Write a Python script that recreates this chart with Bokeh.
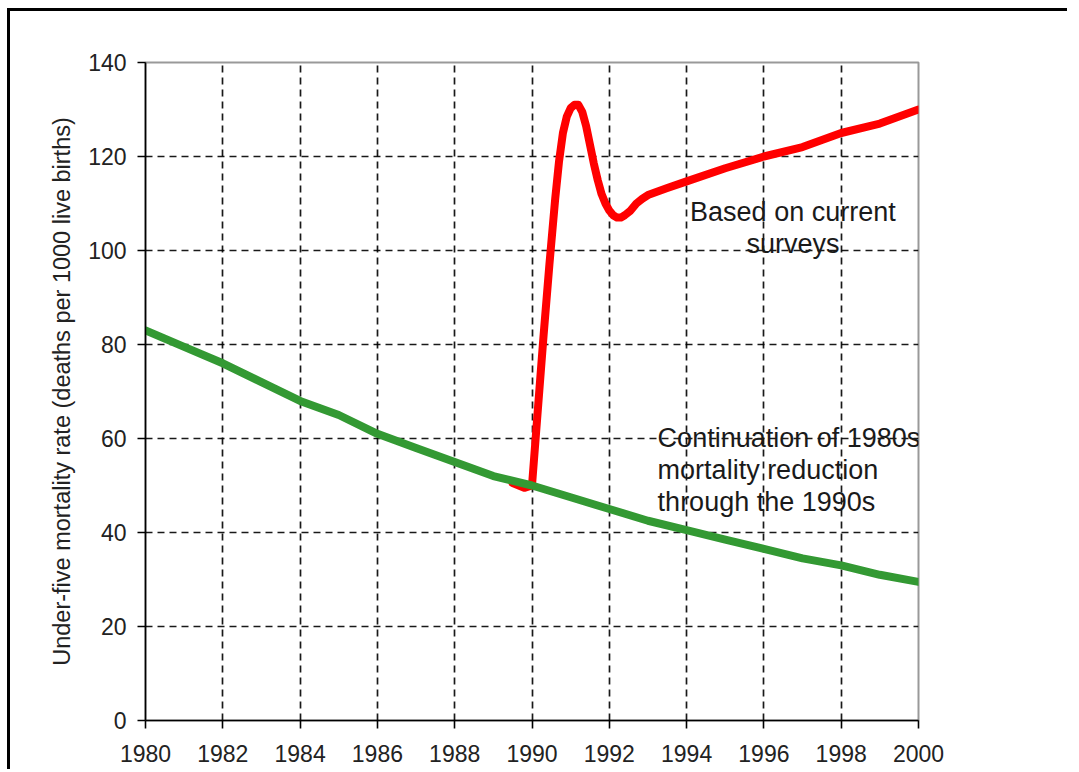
from bokeh.plotting import figure
from bokeh.models import FixedTicker, Range1d
from bokeh.core.properties import value
from bokeh.embed import file_html
from bokeh.resources import INLINE

# ---- data ----
green_years = [1980, 1981, 1982, 1983, 1984, 1985, 1986, 1987, 1988, 1989, 1990,
               1991, 1992, 1993, 1994, 1995, 1996, 1997, 1998, 1999, 2000]
green_rate = [83, 79.5, 76, 72, 68, 65, 61, 58, 55, 52, 50,
              47.5, 45, 42.5, 40.5, 38.5, 36.5, 34.5, 33, 31, 29.5]

red_years = [1989.5, 1989.8, 1990.0, 1990.15, 1990.3, 1990.45, 1990.6, 1990.7, 1990.8,
             1990.9, 1991.0, 1991.1, 1991.2, 1991.3, 1991.4, 1991.5, 1991.6, 1991.7,
             1991.8, 1991.9, 1992.0, 1992.1, 1992.2, 1992.3, 1992.4, 1992.55, 1992.7,
             1992.85, 1993.0, 1993.5, 1994, 1995, 1996, 1997, 1998, 1999, 2000]
red_rate = [50.5, 49.5, 50, 66, 82, 97, 111, 119, 125,
            128.5, 130.3, 131, 131, 129.5, 126.5, 122.5, 118.5, 115,
            112, 110, 108.5, 107.5, 107, 107, 107.5, 108.5, 110,
            111, 111.8, 113.3, 114.7, 117.5, 120, 122, 125, 127, 130]

x_ticks = [1980, 1982, 1984, 1986, 1988, 1990, 1992, 1994, 1996, 1998, 2000]
y_ticks = [0, 20, 40, 60, 80, 100, 120, 140]

surveys_lines = ["Based on current", "surveys"]
cont_lines = ["Continuation of 1980s", "mortality reduction", "through the 1990s"]
y_title = "Under-five mortality rate (deaths per 1000 live births)"

FONT = "Liberation Sans"

p = figure(width=1060, height=761, output_backend="svg", toolbar_location=None,
           x_range=Range1d(1980, 2000), y_range=Range1d(0, 140),
           min_border_left=135, min_border_right=152, min_border_top=51,
           min_border_bottom=52)
p.styles = {"border-top": "3px solid black", "border-left": "3px solid black",
            "margin-left": "7px", "margin-top": "8px"}

p.background_fill_color = "white"
p.border_fill_color = "white"
p.outline_line_color = "#999999"
p.outline_line_width = 2

# grids
p.xgrid.ticker = FixedTicker(ticks=x_ticks[1:-1])
p.ygrid.ticker = FixedTicker(ticks=y_ticks[1:-1])
for g in (p.xgrid, p.ygrid):
    g.grid_line_color = "black"
    g.grid_line_width = 1.7
    g.grid_line_dash = "7 5"
    g.grid_line_alpha = 0.9

# axes
p.xaxis.ticker = FixedTicker(ticks=x_ticks)
p.yaxis.ticker = FixedTicker(ticks=y_ticks)
for ax in (p.xaxis, p.yaxis):
    ax.axis_line_color = "black"
    ax.axis_line_width = 1.6
    ax.major_tick_line_color = "black"
    ax.major_tick_line_width = 1.6
    ax.major_tick_out = 8
    ax.major_tick_in = 0
    ax.minor_tick_line_color = None
    ax.major_label_text_font = FONT
    ax.major_label_text_font_size = "23px"
    ax.major_label_text_color = "#222222"
p.xaxis.major_label_standoff = 16
p.yaxis.major_label_standoff = 11
p.yaxis.axis_label = y_title
p.yaxis.axis_label_text_font = FONT
p.yaxis.axis_label_text_font_size = "23.5px"
p.yaxis.axis_label_text_font_style = "normal"
p.yaxis.axis_label_text_color = "#222222"
p.yaxis.axis_label_standoff = 10

# lines
p.line(red_years, red_rate, line_color="#ff0000", line_width=8, line_join="round", line_cap="round")
p.line(green_years, green_rate, line_color="#339933", line_width=8, line_join="round", line_cap="round")

# annotations (one text per line)
p.text(x=[1996.75] * 2, y=[108.1, 101.4], text=surveys_lines, text_align="center",
       text_baseline="alphabetic", text_font=value(FONT), text_font_size="27px",
       text_color="#1a1a1a")
p.text(x=[1993.25] * 3, y=[60.2, 53.4, 46.4], text=cont_lines, text_align="left",
       text_baseline="alphabetic", text_font=value(FONT), text_font_size="27px",
       text_color="#1a1a1a")

open("out.html", "w").write(file_html(p, INLINE))
